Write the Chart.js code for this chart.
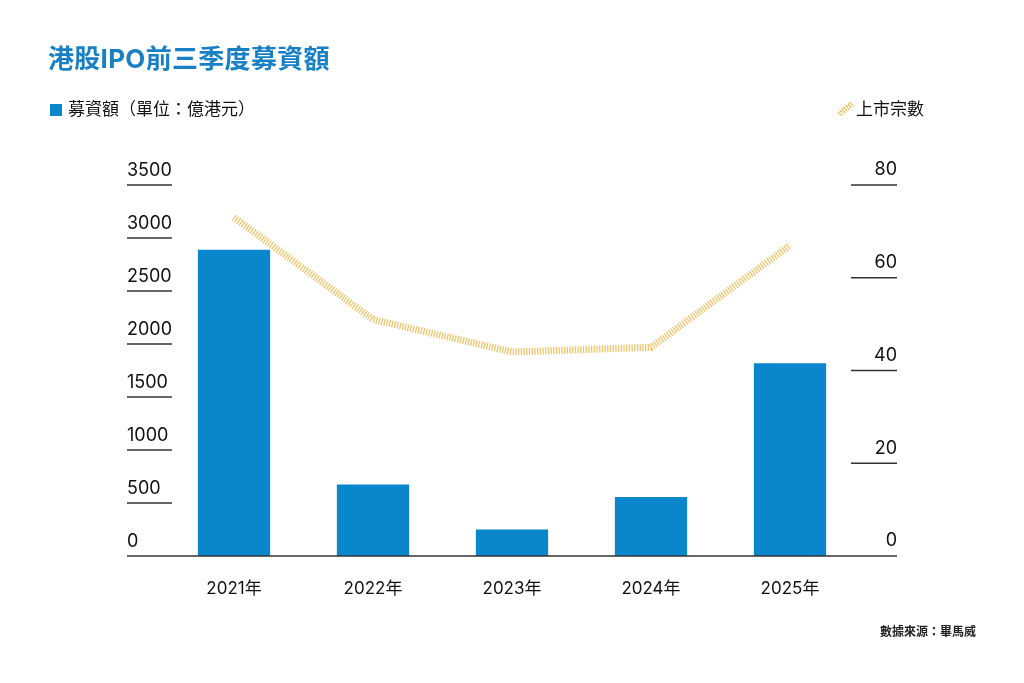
<!DOCTYPE html>
<html>
<head>
<meta charset="utf-8">
<script src="https://cdn.jsdelivr.net/npm/chart.js@4"></script>
<style>
  body { margin: 0; background: #fff; font-family: "Inter", "Noto Sans CJK TC", sans-serif; }
  #wrap { position: relative; width: 1024px; height: 683px; }
  #chart { position: absolute; left: 0; top: 0; }
  .title { position: absolute; left: 48px; top: 38px; font-size: 26px; font-weight: 700; color: #1a80c4; letter-spacing: 0.3px; }
  .leg { position: absolute; top: 95px; font-size: 17px; color: #111; }
  .leg-bar { left: 50px; }
  .leg-bar i { display: inline-block; width: 12px; height: 12px; background: #0a86cc; margin-right: 6px; vertical-align: -1px; }
  .leg-line { left: 837px; }
  .leg-line i { display: inline-block; width: 17px; height: 6px; margin-right: 2px; vertical-align: 3px;
    background: repeating-linear-gradient(90deg, #eec56c 0 1.3px, transparent 1.3px 2.6px); transform: rotate(-38deg); }
  .source { position: absolute; left: 880px; top: 622px; font-size: 12px; font-weight: 700; color: #222; }
</style>
</head>
<body>
<div id="wrap">
  <canvas id="chart" width="1024" height="683"></canvas>
  <div class="title">港股IPO前三季度募資額</div>
  <div class="leg leg-bar"><i></i>募資額（單位：億港元）</div>
  <div class="leg leg-line"><i></i>上市宗數</div>
  <div class="source">數據來源：畢馬威</div>
</div>
<script>
// 前三季度數據
const years = ['2021年', '2022年', '2023年', '2024年', '2025年'];
const funds = [2890, 675, 250, 556, 1818];   // 募資額（億港元）
const listings = [73, 51, 44, 45, 67];        // 上市宗數
const fundTicks = [0, 500, 1000, 1500, 2000, 2500, 3000, 3500];
const listTicks = [0, 20, 40, 60, 80];

const fontFamily = '"Inter", "Noto Sans CJK TC", sans-serif';

// short rules under each tick label, plus the baseline
const tickLines = {
  id: 'tickLines',
  afterDatasetsDraw(chart) {
    const { ctx, scales: { y, y1 } } = chart;
    ctx.save();
    ctx.lineWidth = 1.5;
    ctx.strokeStyle = '#333';
    y.ticks.forEach(t => {
      if (t.value === 0) return;
      const py = y.getPixelForValue(t.value);
      ctx.beginPath(); ctx.moveTo(y.left, py); ctx.lineTo(y.left + 45, py); ctx.stroke();
    });
    y1.ticks.forEach(t => {
      if (t.value === 0) return;
      const py = y1.getPixelForValue(t.value);
      ctx.beginPath(); ctx.moveTo(y1.right - 46, py); ctx.lineTo(y1.right, py); ctx.stroke();
    });
    const py0 = y.getPixelForValue(0);
    ctx.beginPath(); ctx.moveTo(y.left, py0); ctx.lineTo(y1.right, py0); ctx.stroke();
    ctx.restore();
  }
};

new Chart(document.getElementById('chart'), {
  data: {
    labels: years,
    datasets: [
      {
        type: 'line',
        label: '上市宗數',
        data: listings,
        yAxisID: 'y1',
        borderColor: '#eec56c',
        borderWidth: 7,
        borderDash: [1.3, 1.4],
        borderCapStyle: 'butt',
        pointRadius: 0,
        tension: 0,
        order: 0
      },
      {
        type: 'bar',
        label: '募資額（單位：億港元）',
        data: funds,
        yAxisID: 'y',
        backgroundColor: '#0a86cc',
        categoryPercentage: 1,
        barPercentage: 0.52,
        order: 1
      }
    ]
  },
  plugins: [tickLines],
  options: {
    responsive: false,
    animation: false,
    layout: { padding: { left: 127, right: 127, top: 185, bottom: 67 } },
    plugins: { legend: { display: false }, tooltip: { enabled: false } },
    scales: {
      x: {
        grid: { display: false },
        border: { display: false },
        ticks: { color: '#111', font: { family: fontFamily, size: 17 }, padding: 15 },
        afterFit: s => { s.height = 60; }
      },
      y: {
        position: 'left',
        min: 0, max: 3500,
        afterBuildTicks: s => { s.ticks = fundTicks.map(v => ({ value: v })); },
        grid: { display: false },
        border: { display: false },
        ticks: {
          color: '#111', font: { family: fontFamily, size: 18 },
          mirror: true, padding: -37.5, labelOffset: -14,
          callback: v => String(v)
        },
        afterFit: s => { s.width = 37.5; }
      },
      y1: {
        position: 'right',
        min: 0, max: 80,
        afterBuildTicks: s => { s.ticks = listTicks.map(v => ({ value: v })); },
        grid: { display: false },
        border: { display: false },
        ticks: {
          color: '#111', font: { family: fontFamily, size: 18 },
          mirror: true, padding: 37.5, labelOffset: -15,
          callback: v => String(v)
        },
        afterFit: s => { s.width = 37.5; }
      }
    }
  }
});
</script>
</body>
</html>
